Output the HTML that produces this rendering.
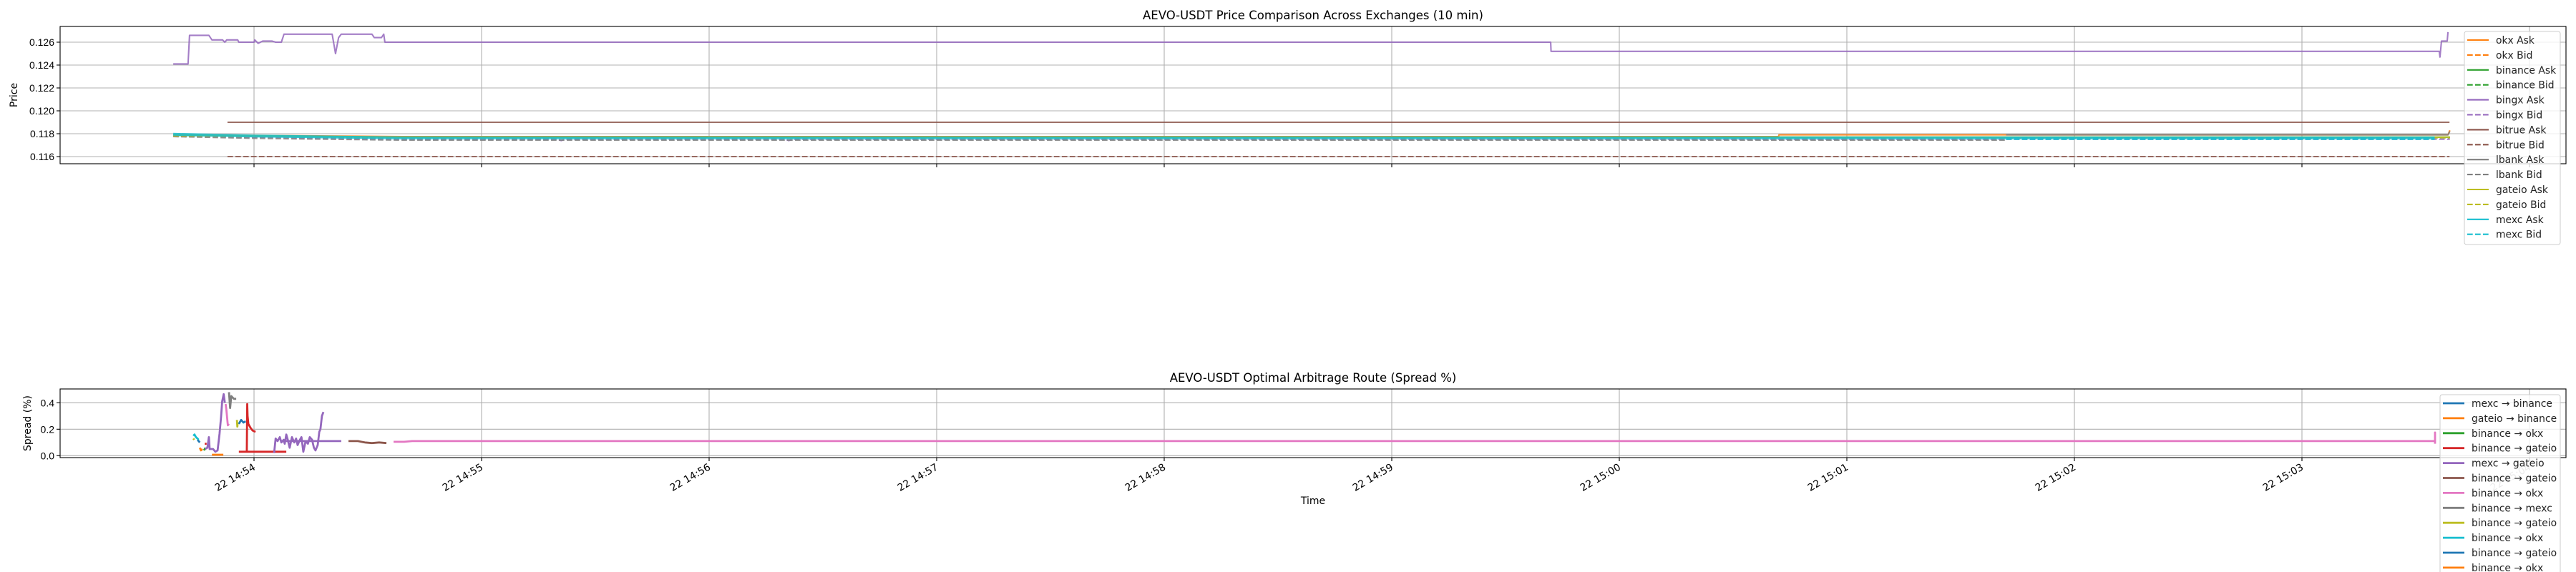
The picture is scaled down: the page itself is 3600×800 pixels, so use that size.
<!DOCTYPE html>
<html><head><meta charset="utf-8">
<style>
html,body{margin:0;padding:0;background:#fff;}
svg{display:block;font-family:"DejaVu Sans","Liberation Sans",sans-serif;}
</style></head>
<body>
<svg id="fig" width="3600" height="800" viewBox="0 0 3600 800" xmlns="http://www.w3.org/2000/svg">
<rect width="3600" height="800" fill="#fff"/>
<g id="top"></g>
<g id="bot"></g>
</svg>
<script>
// ===== data (time in seconds after 14:53:00) =====
const minuteLabels = ["22 14:54","22 14:55","22 14:56","22 14:57","22 14:58","22 14:59","22 15:00","22 15:01","22 15:02","22 15:03","22 15:04"];
const priceTicks = [0.116,0.118,0.120,0.122,0.124,0.126];
const spreadTicks = [0.0,0.2,0.4];

const bingxAskT = [38.7,42.6,43.0,48.1,48.9,51.7,52.3,52.8,55.7,56.0,60.0,60.2,61.1,62.3,64.7,65.7,67.2,67.9,80.6,81.5,82.3,83.0,91.1,91.7,93.6,94.2,94.5,401.9,402.0,636.2,636.4,636.8,638.3,638.5];
const bingxAskV = [.1241,.1241,.1266,.1266,.1262,.1262,.1260,.1262,.1262,.1260,.1260,.1262,.1259,.1261,.1261,.1260,.1260,.1267,.1267,.1250,.1264,.1267,.1267,.1264,.1264,.1267,.1260,.1260,.1252,.1252,.1247,.1261,.1261,.12688];
const bitrueAskT = [53,638.9];
const bitrueAskV = [.1190,.1190];
const bitrueBidT = [53,638.9];
const bitrueBidV = [.1160,.1160];
const okxAskT = [38.7,60,99,462,462.1,638.5,639];
const okxAskV = [.1179,.11785,.11775,.11775,.1179,.1179,.1183];
const okxBidT = [38.7,99,639];
const okxBidV = [.11782,.11768,.11768];
const binanceAskT = [38.7,99,639];
const binanceAskV = [.11785,.1177,.1177];
const binanceBidT = [38.7,99,639];
const binanceBidV = [.1178,.11765,.11765];
const bingxBidT = [38.7,60,99,140,141,142,200,201,202,639];
const bingxBidV = [.11778,.1177,.11752,.11752,.1174,.11752,.11752,.1174,.11752,.11752];
const lbankAskT = [522,638.5,639];
const lbankAskV = [.1179,.1179,.1182];
const lbankBidT = [38.7,60,99,522];
const lbankBidV = [.11775,.1176,.11744,.11744];
const gateioAskT = [38.7,99,639];
const gateioAskV = [.1179,.1177,.1177];
const gateioBidT = [38.7,99,639];
const gateioBidV = [.11782,.11765,.11765];
const mexcAskT = [38.7,60,99,635];
const mexcAskV = [.11795,.1178,.11763,.11763];
const mexcBidT = [522,635];
const mexcBidV = [.11757,.11757];

const spMexcBinT = [45.1,45.4,45.7];
const spMexcBinV = [.12,.11,.10];
const spGateBinT = [45.7,46.0,46.4];
const spGateBinV = [.06,.04,.05];
const spBinOkx1T = [46.8,47.2];
const spBinOkx1V = [.04,.06];
const spBinGate1T = [47.0,47.5,null,56.0,58.1,58.2,58.3,58.5,59.1,59.6,60.4,null,56.0,68.5];
const spBinGate1V = [.09,.09,null,.03,.03,.39,.30,.24,.21,.19,.18,null,.03,.03];
const spMexcGateT = [47.1,47.7,48.1,48.3,49.2,49.8,50.4,50.9,51.3,51.6,52.0,52.3,null,65.3,65.7,66.2,66.8,67.2,67.8,68.1,68.5,68.9,69.4,70.0,70.6,71.1,71.5,72.1,72.5,73.0,73.6,74.2,74.7,75.3,75.8,76.2,76.8,77.2,77.5,77.9,78.3,null,67.2,83.0];
const spMexcGateV = [.05,.06,.14,.05,.05,.03,.04,.165,.29,.41,.465,.40,null,.02,.13,.11,.14,.10,.12,.09,.16,.12,.06,.14,.10,.13,.08,.12,.14,.03,.11,.09,.14,.12,.06,.04,.08,.18,.20,.30,.33,null,.11,.11];
const spBinGate2T = [84.9,87.4,89.2,91.1,93.0,94.9];
const spBinGate2V = [.11,.11,.10,.095,.10,.095];
const spBinOkx2T = [52.5,52.7,53.1,53.4,null,96.8,99.6,101.7,635.1,635.1,635.1];
const spBinOkx2V = [.39,.35,.23,.24,null,.105,.105,.11,.11,.175,.09];
const spBinMexcT = [53.4,53.7,54.0,54.7,55.3];
const spBinMexcV = [.48,.36,.45,.43,.43];
const spBinGate3T = [44.0,44.2,null,55.5,55.6,55.7];
const spBinGate3V = [.13,.12,null,.27,.22,.25];
const spBinOkx3T = [44.0,44.3,44.7,45.1,45.4];
const spBinOkx3V = [.15,.16,.14,.13,.12];
const spBinGate4T = [56.0,56.6,57.2,57.8];
const spBinGate4V = [.24,.27,.25,.26];
const spBinOkx4T = [48.9,51.9];
const spBinOkx4V = [.007,.007];

// ===== layout =====
const NS="http://www.w3.org/2000/svg";
const L=84,R=3586;
const xs=t=>37+t*318/60;
const T={top:37,bot:229}, B={top:544,bot:640};
const yTop=v=>59+(0.126-v)*16000;
const yBot=v=>637.3-v*185;
function mk(tag,attrs,parent,text){const e=document.createElementNS(NS,tag);for(const k in attrs)e.setAttribute(k,attrs[k]);if(text!==undefined)e.textContent=text;parent.appendChild(e);return e;}
function pathD(ts,vs,ys){let d="",pen=false;for(let i=0;i<ts.length;i++){if(ts[i]===null){pen=false;continue;}d+=(pen?"L":"M")+xs(ts[i]).toFixed(1)+","+ys(vs[i]).toFixed(1);pen=true;}return d;}
const C={blue:"#1f77b4",orange:"#ff7f0e",green:"#2ca02c",red:"#d62728",purple:"#9467bd",brown:"#8c564b",pink:"#e377c2",gray:"#7f7f7f",olive:"#bcbd22",cyan:"#17becf"};

function axes(g,box,yTicks,yf,fmt,ylabel,title,clipId){
  mk("rect",{x:L,y:box.top,width:R-L,height:box.bot-box.top,fill:"#fff"},g);
  // grid
  minuteLabels.forEach((m,i)=>{const x=xs(60*(i+1));if(x<R){const gl=mk("line",{x1:x,x2:x,y1:box.top,y2:box.bot,stroke:"#b0b0b0","stroke-width":1.1},g);
    
    }});
  yTicks.forEach(v=>{const y=yf(v);const gl=mk("line",{x1:L,x2:R,y1:y,y2:y,stroke:"#b0b0b0","stroke-width":1.1},g);
    
    
    const tk=mk("line",{x1:L-5,x2:L,y1:y,y2:y,stroke:"#000","stroke-width":1.1},g);
    
    
    const tl=mk("text",{x:L-8,y:y+5,"text-anchor":"end","font-size":"14","font-family":"Liberation Sans Narrow, Liberation Sans, sans-serif"},g,fmt(v));
    
    });
  minuteLabels.forEach((m,i)=>{const x=xs(60*(i+1));const tk=mk("line",{x1:x,x2:x,y1:box.bot,y2:box.bot+5,stroke:"#000","stroke-width":1.1},g);
    
    });
  const cp=mk("clipPath",{id:clipId},g);mk("rect",{x:L,y:box.top,width:R-L,height:box.bot-box.top},cp);
  const yl=mk("text",{x:0,y:0,transform:`translate(${ylabel.x},${(box.top+box.bot)/2}) rotate(-90)`,"text-anchor":"middle","font-size":"14"},g,ylabel.t);
  
  
  const tt=mk("text",{x:(L+R)/2,y:box.top-10,"text-anchor":"middle","font-size":"16.5"},g,title);
  
  
  const lines=mk("g",{"clip-path":`url(#${clipId})`},g);
  return lines;
}

// ===== top chart =====
const gt=document.getElementById("top");
const lt=axes(gt,T,priceTicks,yTop,v=>v.toFixed(3),{x:24,t:"Price"},"AEVO-USDT Price Comparison Across Exchanges (10 min)","cpTop");
const topSeries=[
 ["okx Ask",okxAskT,okxAskV,C.orange,false],["okx Bid",okxBidT,okxBidV,C.orange,true],
 ["binance Ask",binanceAskT,binanceAskV,C.green,false],["binance Bid",binanceBidT,binanceBidV,C.green,true],
 ["bingx Ask",bingxAskT,bingxAskV,C.purple,false],["bingx Bid",bingxBidT,bingxBidV,C.purple,true],
 ["bitrue Ask",bitrueAskT,bitrueAskV,C.brown,false],["bitrue Bid",bitrueBidT,bitrueBidV,C.brown,true],
 ["lbank Ask",lbankAskT,lbankAskV,C.gray,false],["lbank Bid",lbankBidT,lbankBidV,C.gray,true],
 ["gateio Ask",gateioAskT,gateioAskV,C.olive,false],["gateio Bid",gateioBidT,gateioBidV,C.olive,true],
 ["mexc Ask",mexcAskT,mexcAskV,C.cyan,false],["mexc Bid",mexcBidT,mexcBidV,C.cyan,true]];
topSeries.forEach(s=>{const a={d:pathD(s[1],s[2],yTop),fill:"none",stroke:s[3],"stroke-width":s[3]===C.cyan?4:2.1,"stroke-opacity":0.85,"stroke-linejoin":"round"};if(s[4])a["stroke-dasharray"]="7.7,3.3";
  const p=mk("path",a,lt);
  
  });
mk("rect",{x:L,y:T.top,width:R-L,height:T.bot-T.top,fill:"none",stroke:"#000","stroke-width":1.1},gt);

// ===== bottom chart =====
const gb=document.getElementById("bot");
const lb=axes(gb,B,spreadTicks,yBot,v=>v.toFixed(1),{x:43,t:"Spread (%)"},"AEVO-USDT Optimal Arbitrage Route (Spread %)","cpBot");
const botSeries=[
 ["mexc → binance",spMexcBinT,spMexcBinV,C.blue],["gateio → binance",spGateBinT,spGateBinV,C.orange],
 ["binance → okx",spBinOkx1T,spBinOkx1V,C.green],["binance → gateio",spBinGate1T,spBinGate1V,C.red],
 ["mexc → gateio",spMexcGateT,spMexcGateV,C.purple],["binance → gateio",spBinGate2T,spBinGate2V,C.brown],
 ["binance → okx",spBinOkx2T,spBinOkx2V,C.pink],["binance → mexc",spBinMexcT,spBinMexcV,C.gray],
 ["binance → gateio",spBinGate3T,spBinGate3V,C.olive],["binance → okx",spBinOkx3T,spBinOkx3V,C.cyan],
 ["binance → gateio",spBinGate4T,spBinGate4V,C.blue],["binance → okx",spBinOkx4T,spBinOkx4V,C.orange]];
botSeries.forEach(s=>{const p=mk("path",{d:pathD(s[1],s[2],yBot),fill:"none",stroke:s[3],"stroke-width":2.8,"stroke-linejoin":"round"},lb);
  
  });
mk("rect",{x:L,y:B.top,width:R-L,height:B.bot-B.top,fill:"none",stroke:"#000","stroke-width":1.1},gb);
minuteLabels.forEach((m,i)=>{const x=xs(60*(i+1));
  const t=mk("text",{x:0,y:0,transform:`translate(${x+3},${B.bot+16}) rotate(-30)`,"text-anchor":"end","font-size":"14",fill:i===10?"#999":"#000"},gb,m);
  
  });
const xt=mk("text",{x:(L+R)/2,y:705,"text-anchor":"middle","font-size":"14"},gb,"Time");



// ===== legends =====
function legend(g,x0,y0,w,h,items,name){
  const lg=mk("g",{},g);
  
  
  mk("rect",{x:x0,y:y0,width:w,height:h,rx:3,fill:"#fff","fill-opacity":0.8,stroke:"#ccc","stroke-width":1},lg);
  items.forEach((it,i)=>{const cy=y0+12+i*20.9;
    const e=mk("g",{},lg);
    
    
    const a={x1:x0+4,x2:x0+34,y1:cy,y2:cy,stroke:it[3],"stroke-width":it.lw||2.1};if(it[4])a["stroke-dasharray"]="7.7,3.3";
    mk("line",a,e);
    mk("text",{x:x0+44,y:cy+5,"font-size":"13.9",fill:"#222"},e,it[0]);});
}
legend(gt,3444,44,134,298,topSeries,"price-legend");
legend(gb,3410,552,168,260,botSeries.map(s=>{const c=s.slice();c.lw=2.8;return c;}),"route-legend");
</script>
</body></html>
